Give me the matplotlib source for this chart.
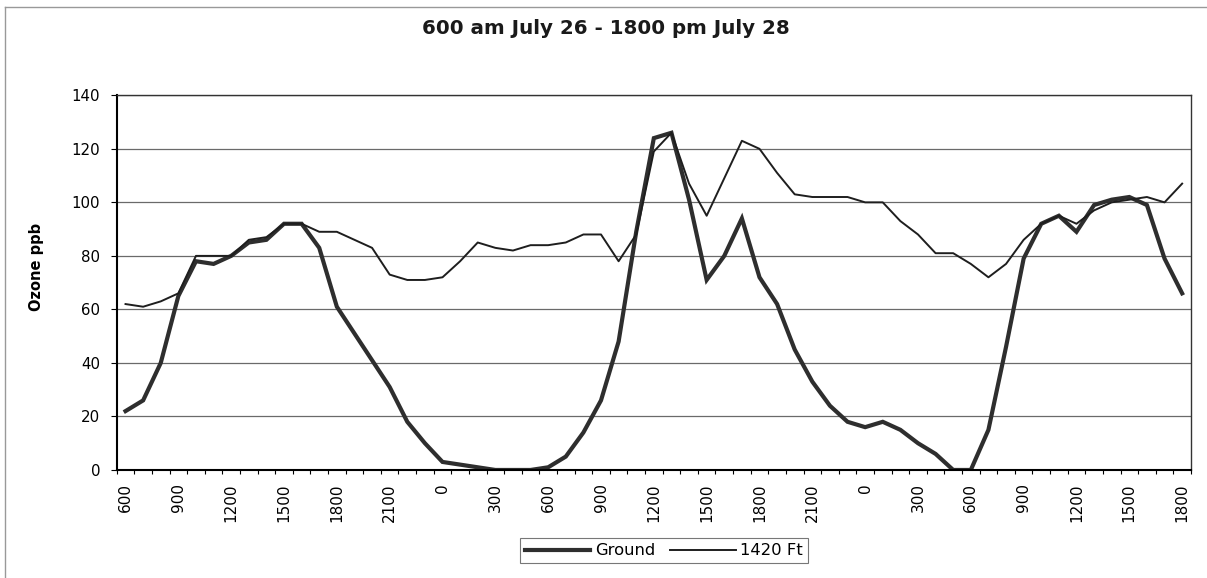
import matplotlib
matplotlib.use("Agg")
import matplotlib.pyplot as plt
from matplotlib.lines import Line2D
import numpy as np

# hourly readings, 600 July 26 -> 1800 July 28
ground = [22, 26, 40, 65, 78, 77, 80, 85, 86, 92,
          92, 83, 61, 51, 41, 31, 18, 10, 3, 2,
          1, 0, 0, 0, 1, 5, 14, 26, 48, 89,
          124, 126, 101, 71, 80, 94, 72, 62, 45, 33,
          24, 18, 16, 18, 15, 10, 6, 0, 0, 15,
          46, 79, 92, 95, 89, 99, 101, 102, 99, 79,
          66]
ft1420 = [62, 61, 63, 66, 80, 80, 80, 86, 87, 92,
          92, 89, 89, 86, 83, 73, 71, 71, 72, 78,
          85, 83, 82, 84, 84, 85, 88, 88, 78, 88,
          119, 126, 107, 95, 109, 123, 120, 111, 103, 102,
          102, 102, 100, 100, 93, 88, 81, 81, 77, 72,
          77, 86, 92, 95, 92, 97, 100, 101, 102, 100,
          107]
tick_labels = ["600", "900", "1200", "1500", "1800", "2100", "0", "300",
               "600", "900", "1200", "1500", "1800", "2100", "0", "300",
               "600", "900", "1200", "1500", "1800"]

plt.rcParams["font.family"] = "DejaVu Sans"

fig = plt.figure(figsize=(12.07, 5.78), dpi=100)
ax = fig.add_axes([0.0967, 0.1869, 0.8900, 0.6482])

x = np.arange(len(ground))
ax.plot(x, ground, color="#2e2e2e", lw=3.0, solid_joinstyle="miter", label="Ground")
ax.plot(x, ft1420, color="#1e1e1e", lw=1.4, label="1420 Ft")

ax.set_xlim(-0.5, len(ground) - 0.5)
ax.set_ylim(0, 140)
ax.set_yticks(range(0, 141, 20))
ax.yaxis.grid(True, color="#6a6a6a", lw=0.9)
ax.set_axisbelow(True)

ax.set_xticks(x[::3])
ax.set_xticklabels(tick_labels, rotation=90, fontsize=11)
ax.set_xticks(np.arange(-0.5, len(ground), 1), minor=True)
ax.tick_params(axis="x", which="major", length=0, pad=9.5)
ax.tick_params(axis="x", which="minor", length=3, width=0.8, direction="out")
ax.tick_params(axis="y", length=4, width=0.8, pad=8, labelsize=10.8)

for side in ["left", "bottom"]:
    ax.spines[side].set_linewidth(1.5)
for side in ["top", "right"]:
    ax.spines[side].set_linewidth(1.0)
    ax.spines[side].set_color("#333333")

fig.text(0.502, 1 - 28 / 578, "600 am July 26 - 1800 pm July 28",
         ha="center", va="center", fontsize=14.3, fontweight="bold", color="#1a1a1a")
fig.text(0.0304, 1 - 267 / 578, "Ozone ppb", rotation=90,
         ha="center", va="center", fontsize=10.5, fontweight="bold")

leg = fig.legend(loc="center", bbox_to_anchor=(0.550, 0.047), ncol=2,
                 frameon=True, fancybox=False, fontsize=11.8,
                 handlelength=4.0, handletextpad=0.3, columnspacing=0.9,
                 borderpad=0.3, edgecolor="#555555")
leg.get_frame().set_linewidth(0.8)

# scanned page border (top and left)
fig.add_artist(Line2D([5 / 1207, 1.0], [1 - 7 / 578, 1 - 7 / 578],
                      transform=fig.transFigure, color="#999999", lw=1.0))
fig.add_artist(Line2D([5 / 1207, 5 / 1207], [0.0, 1 - 7 / 578],
                      transform=fig.transFigure, color="#999999", lw=1.0))

fig.savefig("out.png", dpi=100)
